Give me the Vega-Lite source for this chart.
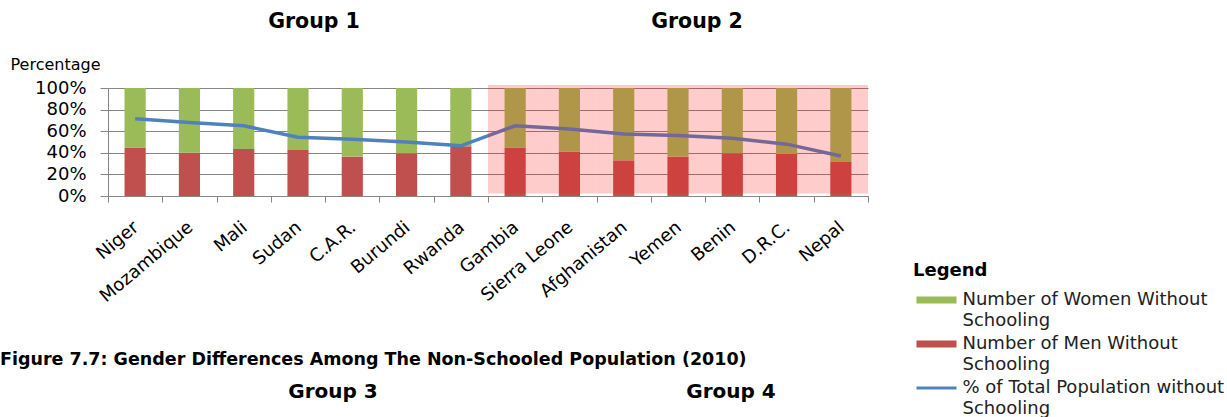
{
  "$schema": "https://vega.github.io/schema/vega-lite/v6.json",
  "width": 760,
  "height": 108,
  "autosize": {"type": "none"},
  "padding": {"left": 108, "top": 88, "right": 359, "bottom": 221},
  "background": "white",
  "config": {
    "view": {"stroke": null},
    "font": "DejaVu Sans",
    "axis": {"domainColor": "#868686", "tickColor": "#868686", "gridColor": "#868686", "labelColor": "black", "titleColor": "black"}
  },
  "datasets": {
    "bars": [
      {"country": "Niger", "series": "Number of Men Without Schooling", "share": 0.45},
      {"country": "Niger", "series": "Number of Women Without Schooling", "share": 0.55},
      {"country": "Mozambique", "series": "Number of Men Without Schooling", "share": 0.40},
      {"country": "Mozambique", "series": "Number of Women Without Schooling", "share": 0.60},
      {"country": "Mali", "series": "Number of Men Without Schooling", "share": 0.435},
      {"country": "Mali", "series": "Number of Women Without Schooling", "share": 0.565},
      {"country": "Sudan", "series": "Number of Men Without Schooling", "share": 0.425},
      {"country": "Sudan", "series": "Number of Women Without Schooling", "share": 0.575},
      {"country": "C.A.R.", "series": "Number of Men Without Schooling", "share": 0.365},
      {"country": "C.A.R.", "series": "Number of Women Without Schooling", "share": 0.635},
      {"country": "Burundi", "series": "Number of Men Without Schooling", "share": 0.395},
      {"country": "Burundi", "series": "Number of Women Without Schooling", "share": 0.605},
      {"country": "Rwanda", "series": "Number of Men Without Schooling", "share": 0.46},
      {"country": "Rwanda", "series": "Number of Women Without Schooling", "share": 0.54},
      {"country": "Gambia", "series": "Number of Men Without Schooling", "share": 0.45},
      {"country": "Gambia", "series": "Number of Women Without Schooling", "share": 0.55},
      {"country": "Sierra Leone", "series": "Number of Men Without Schooling", "share": 0.41},
      {"country": "Sierra Leone", "series": "Number of Women Without Schooling", "share": 0.59},
      {"country": "Afghanistan", "series": "Number of Men Without Schooling", "share": 0.33},
      {"country": "Afghanistan", "series": "Number of Women Without Schooling", "share": 0.67},
      {"country": "Yemen", "series": "Number of Men Without Schooling", "share": 0.365},
      {"country": "Yemen", "series": "Number of Women Without Schooling", "share": 0.635},
      {"country": "Benin", "series": "Number of Men Without Schooling", "share": 0.395},
      {"country": "Benin", "series": "Number of Women Without Schooling", "share": 0.605},
      {"country": "D.R.C.", "series": "Number of Men Without Schooling", "share": 0.39},
      {"country": "D.R.C.", "series": "Number of Women Without Schooling", "share": 0.61},
      {"country": "Nepal", "series": "Number of Men Without Schooling", "share": 0.315},
      {"country": "Nepal", "series": "Number of Women Without Schooling", "share": 0.685}
    ],
    "total": [
      {"country": "Niger", "pct": 0.715},
      {"country": "Mozambique", "pct": 0.68},
      {"country": "Mali", "pct": 0.65},
      {"country": "Sudan", "pct": 0.545},
      {"country": "C.A.R.", "pct": 0.525},
      {"country": "Burundi", "pct": 0.50},
      {"country": "Rwanda", "pct": 0.465},
      {"country": "Gambia", "pct": 0.65},
      {"country": "Sierra Leone", "pct": 0.62},
      {"country": "Afghanistan", "pct": 0.575},
      {"country": "Yemen", "pct": 0.56},
      {"country": "Benin", "pct": 0.535},
      {"country": "D.R.C.", "pct": 0.48},
      {"country": "Nepal", "pct": 0.37}
    ],
    "group2": [
      {"country": "Gambia"}, {"country": "Sierra Leone"}, {"country": "Afghanistan"}, {"country": "Yemen"},
      {"country": "Benin"}, {"country": "D.R.C."}, {"country": "Nepal"}
    ]
  },
  "encoding": {
    "x": {
      "field": "country",
      "type": "nominal",
      "sort": ["Niger", "Mozambique", "Mali", "Sudan", "C.A.R.", "Burundi", "Rwanda", "Gambia", "Sierra Leone", "Afghanistan", "Yemen", "Benin", "D.R.C.", "Nepal"],
      "scale": {"paddingInner": 0, "paddingOuter": 0},
      "axis": {
        "title": null,
        "labelAngle": -40,
        "labelFontSize": 18,
        "labelPadding": 16,
        "labelOffset": -5,
        "labelOverlap": false,
        "tickBand": "extent",
        "tickSize": 6,
        "grid": false
      }
    }
  },
  "layer": [
    {
      "data": {"name": "bars"},
      "mark": {"type": "bar", "width": {"band": 0.39}},
      "encoding": {
        "y": {
          "field": "share",
          "type": "quantitative",
          "stack": "zero",
          "scale": {"domain": [0, 1], "nice": false},
          "axis": {
            "values": [0, 0.2, 0.4, 0.6, 0.8, 1],
            "tickCount": 6,
            "format": ".0%",
            "grid": true,
            "tickSize": 8,
            "labelOverlap": false,
            "labelFontSize": 18,
            "labelPadding": 14,
            "title": "Percentage",
            "titleAngle": 0,
            "titleAlign": "left",
            "titleBaseline": "alphabetic",
            "titleX": -98,
            "titleY": -19,
            "titleFontSize": 16,
            "titleFontWeight": "normal"
          }
        },
        "color": {
          "field": "series",
          "type": "nominal",
          "scale": {
            "domain": ["Number of Women Without Schooling", "Number of Men Without Schooling", "% of Total Population without Schooling"],
            "range": ["#9BBB59", "#C0504D", "#4F81BD"]
          },
          "legend": {
            "orient": "none",
            "legendX": 805,
            "legendY": 174,
            "title": "Legend",
            "titleFontSize": 18,
            "titleFontWeight": "bold",
            "titleColor": "black",
            "titlePadding": 10,
            "labelFontSize": 18,
            "labelColor": "#222222",
            "labelLimit": 400,
            "labelOffset": 16,
            "symbolOffset": 13.5,
            "symbolSize": 400,
            "symbolStrokeWidth": 0,
            "rowPadding": 4,
            "labelExpr": "datum.label == '% of Total Population without Schooling' ? ['% of Total Population without', 'Schooling'] : [replace(datum.label, ' Schooling', ''), 'Schooling']",
            "encode": {
              "symbols": {
                "update": {
                  "shape": {"signal": "datum.value == '% of Total Population without Schooling' ? 'M-2,-0.15H2V0.15H-2Z' : 'M-2,-0.35H2V0.35H-2Z'"},
                  "fill": {"scale": "color", "field": "value"},
                  "stroke": {"value": "transparent"},
                  "opacity": {"value": 1}
                }
              },
              "labels": {
                "update": {
                  "lineHeight": {"value": 21}
                }
              }
            }
          }
        },
        "order": {"field": "series", "type": "nominal", "sort": "ascending"}
      }
    },
    {
      "data": {"name": "total"},
      "mark": {"type": "line", "strokeWidth": 3.5},
      "encoding": {
        "y": {"field": "pct", "type": "quantitative"},
        "color": {"datum": "% of Total Population without Schooling"}
      }
    },
    {
      "data": {"name": "group2"},
      "mark": {"type": "bar", "width": {"band": 1}, "color": "#FF0C0C", "opacity": 0.21},
      "encoding": {
        "y": {"datum": 0.023},
        "y2": {"datum": 1.028}
      }
    },
    {
      "data": {"values": [{"label": "Group 1"}]},
      "mark": {"type": "text", "fontSize": 20.5, "fontWeight": "bold", "color": "black", "baseline": "middle", "dx": 16},
      "encoding": {
        "x": {"datum": "Sudan"},
        "y": {"datum": 1.61},
        "text": {"field": "label"}
      }
    },
    {
      "data": {"values": [{"label": "Group 2"}]},
      "mark": {"type": "text", "fontSize": 20.5, "fontWeight": "bold", "color": "black", "baseline": "middle", "dx": 19},
      "encoding": {
        "x": {"datum": "Yemen"},
        "y": {"datum": 1.61},
        "text": {"field": "label"}
      }
    },
    {
      "data": {"values": [{"label": "Figure 7.7: Gender Differences Among The Non-Schooled Population (2010)"}]},
      "mark": {"type": "text", "fontSize": 17.5, "fontWeight": "bold", "color": "black", "baseline": "middle", "align": "left", "dx": -108},
      "encoding": {
        "x": {"datum": "Niger", "bandPosition": 0},
        "y": {"datum": -1.52},
        "text": {"field": "label"}
      }
    },
    {
      "data": {"values": [{"label": "Group 3"}]},
      "mark": {"type": "text", "fontSize": 20, "fontWeight": "bold", "color": "black", "baseline": "middle", "dx": 35},
      "encoding": {
        "x": {"datum": "Sudan"},
        "y": {"datum": -1.815},
        "text": {"field": "label"}
      }
    },
    {
      "data": {"values": [{"label": "Group 4"}]},
      "mark": {"type": "text", "fontSize": 20, "fontWeight": "bold", "color": "black", "baseline": "middle", "dx": 53},
      "encoding": {
        "x": {"datum": "Yemen"},
        "y": {"datum": -1.815},
        "text": {"field": "label"}
      }
    }
  ]
}
